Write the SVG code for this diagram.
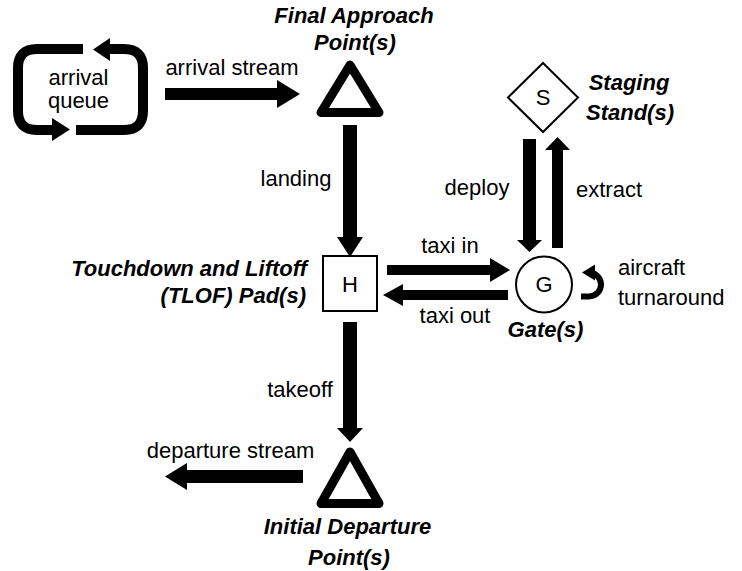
<svg xmlns="http://www.w3.org/2000/svg" width="742" height="571" viewBox="0 0 742 571">
<style>
text{font-family:"Liberation Sans",Arial,sans-serif;font-size:22px;fill:#000}
.lbl{font-weight:bold;font-style:italic}
.m{text-anchor:middle}
.e{text-anchor:end}
.arr{fill:#000;stroke:none}
.loop{fill:none;stroke:#000;stroke-width:10}
.box{fill:#fff;stroke:#000;stroke-width:2}
.tri{fill:#fff;stroke:#000;stroke-width:9;stroke-linejoin:round}
</style>
<rect width="742" height="571" fill="#fff"/>
<g id="arrival-queue">
<path class="loop" d="M83 49 L37 49 Q18 49 18 68 L18 111 Q18 130 37 130 L53 130"/>
<polygon class="arr" points="52,118 52,141 70,129.5"/>
<path class="loop" d="M76 130 L124 130 Q143 130 143 111 L143 68 Q143 49 124 49 L109 49"/>
<polygon class="arr" points="110,38 110,61 93,49.5"/>
<text class="m" x="78.5" y="85">arrival</text>
<text class="m" x="78.5" y="108">queue</text>
</g>
<g id="final-approach">
<polygon class="tri" points="350,65 321,112.5 379,112.5"/>
<text class="lbl m" x="354" y="23">Final Approach</text>
<text class="lbl m" x="355" y="50">Point(s)</text>
</g>
<g id="tlof-pad">
<rect class="box" x="323" y="256" width="54" height="55"/>
<text class="m" x="350" y="292">H</text>
<text class="lbl e" x="307" y="276">Touchdown and Liftoff</text>
<text class="lbl e" x="306" y="303">(TLOF) Pad(s)</text>
</g>
<g id="gate">
<circle class="box" cx="544" cy="284.5" r="28"/>
<text class="m" x="544" y="292">G</text>
<text class="lbl m" x="545.5" y="337">Gate(s)</text>
</g>
<g id="staging-stand">
<polygon class="box" points="543,63 578,97.5 543,132 508,97.5"/>
<text class="m" x="543" y="105">S</text>
<text class="lbl m" x="629" y="90">Staging</text>
<text class="lbl m" x="630" y="120">Stand(s)</text>
</g>
<g id="initial-departure">
<polygon class="tri" points="350,452 321,503.5 379,503.5"/>
<text class="lbl m" x="347.5" y="534">Initial Departure</text>
<text class="lbl m" x="349" y="565">Point(s)</text>
</g>
<g id="connectors">
<g id="arrival-stream">
<polygon class="arr" points="165,88 277,88 277,80 300,94 277,108 277,100 165,100"/>
<text class="m" x="232" y="75">arrival stream</text>
</g>
<g id="landing">
<polygon class="arr" points="343,125 357,125 357,237 363,237 350,257 337,237 343,237"/>
<text class="m" x="296" y="186">landing</text>
</g>
<g id="taxi-in">
<polygon class="arr" points="387,265 490,265 490,258 510,270 490,282 490,275 387,275"/>
<text class="m" x="450" y="253">taxi in</text>
</g>
<g id="taxi-out">
<polygon class="arr" points="508,290 403,290 403,284 383,295 403,306 403,300 508,300"/>
<text class="m" x="455" y="323">taxi out</text>
</g>
<g id="deploy">
<polygon class="arr" points="523,139 536,139 536,240 542,240 529.5,252 517,240 523,240"/>
<text class="m" x="477" y="195">deploy</text>
</g>
<g id="extract">
<polygon class="arr" points="552,248 563,248 563,150 570,150 557.5,137 545,150 552,150"/>
<text class="m" x="609" y="197">extract</text>
</g>
<g id="turnaround">
<path d="M581 296.5 L589 296.5 A12 12 0 0 0 589 272.5" fill="none" stroke="#000" stroke-width="6"/>
<polygon class="arr" points="582,272.5 595,264.5 595,280.5"/>
<text x="618" y="275">aircraft</text>
<text x="618" y="305">turnaround</text>
</g>
<g id="takeoff">
<polygon class="arr" points="343,322 357,322 357,428 363,428 350,442 337,428 343,428"/>
<text class="m" x="300" y="397">takeoff</text>
</g>
<g id="departure-stream">
<polygon class="arr" points="303,470 187,470 187,463 165,476.5 187,490 187,483 303,483"/>
<text class="m" x="230.5" y="458">departure stream</text>
</g>
</g>
</svg>
